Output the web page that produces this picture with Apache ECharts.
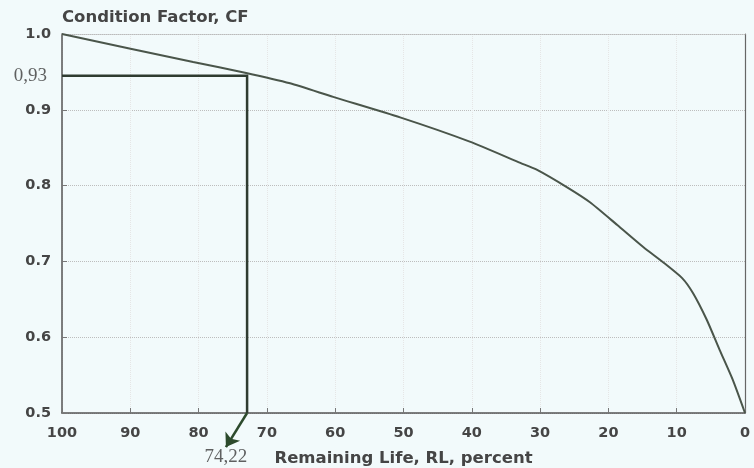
<!DOCTYPE html>
<html>
<head>
<meta charset="utf-8">
<script src="https://cdn.jsdelivr.net/npm/echarts@6/dist/echarts.min.js"></script>
<style>html,body{margin:0;padding:0;background:#f2fafb;}#c{width:754px;height:468px;}</style>
</head>
<body>
<div id="c"></div>
<script>
// Remaining Life (percent) and Condition Factor
const remainingLife = [100, 80.8, 73.2, 66.6, 60.3, 50.5, 40.3, 32.9, 30.5, 26.1, 22.7, 18.7, 14.9, 12.0, 9.2, 7.6, 5.6, 3.7, 1.8, 0];
const conditionFactor = [1.0, 0.963, 0.949, 0.935, 0.917, 0.890, 0.858, 0.830, 0.821, 0.798, 0.778, 0.748, 0.719, 0.699, 0.678, 0.658, 0.623, 0.583, 0.544, 0.5];
// Annotation (read-off point and arrow end), as drawn in the picture
const readPoint = [72.9, 0.945];
const arrowEnd = [76.0, 0.455];
const readLabels = ['0,93', '74,22'];
const xTicks = [100, 90, 80, 70, 60, 50, 40, 30, 20, 10, 0];
const yTicks = ['0.5', '0.6', '0.7', '0.8', '0.9', '1.0'];

const chart = echarts.init(document.getElementById('c'));
const curve = remainingLife.map((r, i) => [r, conditionFactor[i]]);
const textColor = '#454545';
const font = 'DejaVu Sans';

chart.setOption({
  backgroundColor: '#f2fafb',
  animation: false,
  grid: { left: 62, right: 9, top: 34, bottom: 55, containLabel: false, outerBoundsMode: 'none' },
  xAxis: [{
    type: 'value', min: 0, max: 100, interval: 10, inverse: true,
    name: 'Remaining Life, RL, percent', nameLocation: 'middle', nameGap: 37,
    nameTextStyle: { fontFamily: font, fontWeight: 'bold', fontSize: 16.5, color: textColor },
    axisLine: { show: true, onZero: false, lineStyle: { color: '#555', width: 1.5 } },
    axisTick: { show: true, inside: true, length: 5, lineStyle: { color: '#777' } },
    axisLabel: { margin: 13, fontFamily: font, fontWeight: 'bold', fontSize: 14.5, color: textColor,
      formatter: v => String(xTicks.find(t => t === v)) },
    splitLine: { show: true, lineStyle: { color: '#e6e6e6', type: 'dotted' } }
  }, {
    type: 'value', min: 0, max: 100, inverse: true, position: 'top',
    axisLine: { show: true, onZero: false, lineStyle: { color: '#bbb', width: 1, type: 'dotted' } },
    axisTick: { show: false }, axisLabel: { show: false }, splitLine: { show: false }
  }],
  yAxis: [{
    type: 'value', min: 0.5, max: 1.0, interval: 0.1, position: 'left',
    name: 'Condition Factor, CF', nameLocation: 'end', nameGap: 8,
    nameTextStyle: { align: 'left', fontFamily: font, fontWeight: 'bold', fontSize: 16.5, color: textColor },
    axisLine: { show: true, onZero: false, lineStyle: { color: '#555', width: 1.5 } },
    axisTick: { show: true, inside: true, length: 5, lineStyle: { color: '#777' } },
    axisLabel: { margin: 11, fontFamily: font, fontWeight: 'bold', fontSize: 14.5, color: textColor,
      formatter: v => yTicks[Math.round((v - 0.5) * 10)] },
    splitLine: { show: true, lineStyle: { color: '#bdbdbd', type: 'dotted' } }
  }, {
    type: 'value', min: 0.5, max: 1.0, position: 'right',
    axisLine: { show: true, onZero: false, lineStyle: { color: '#666', width: 1.2 } },
    axisTick: { show: false }, axisLabel: { show: false }, splitLine: { show: false }
  }],
  series: [{
    type: 'line', data: curve, showSymbol: false, smooth: 0.2,
    lineStyle: { color: '#4a554a', width: 2 }, z: 3
  }, {
    type: 'lines', coordinateSystem: 'cartesian2d', polyline: true, clip: false,
    data: [{ coords: [[100, readPoint[1]], readPoint, [readPoint[0], 0.5]] }],
    lineStyle: { color: '#2f3b30', width: 2.5, opacity: 1 }, z: 4
  }, {
    type: 'lines', coordinateSystem: 'cartesian2d', clip: false,
    symbol: ['none', 'arrow'], symbolSize: 13,
    data: [{ coords: [[readPoint[0], 0.5], arrowEnd] }],
    lineStyle: { color: '#2c4a2c', width: 2.5, opacity: 1 }, z: 4
  }, {
    type: 'scatter', clip: false, symbolSize: 0, silent: true,
    data: [
      { value: [100, readPoint[1]], label: { show: true, position: 'left', distance: 15, formatter: readLabels[0] } },
      { value: arrowEnd, label: { show: true, position: 'bottom', distance: 0, formatter: readLabels[1] } }
    ],
    label: { fontFamily: 'Liberation Serif', fontSize: 19, color: '#3a3a3a' }
  }]
});
</script>
</body>
</html>
